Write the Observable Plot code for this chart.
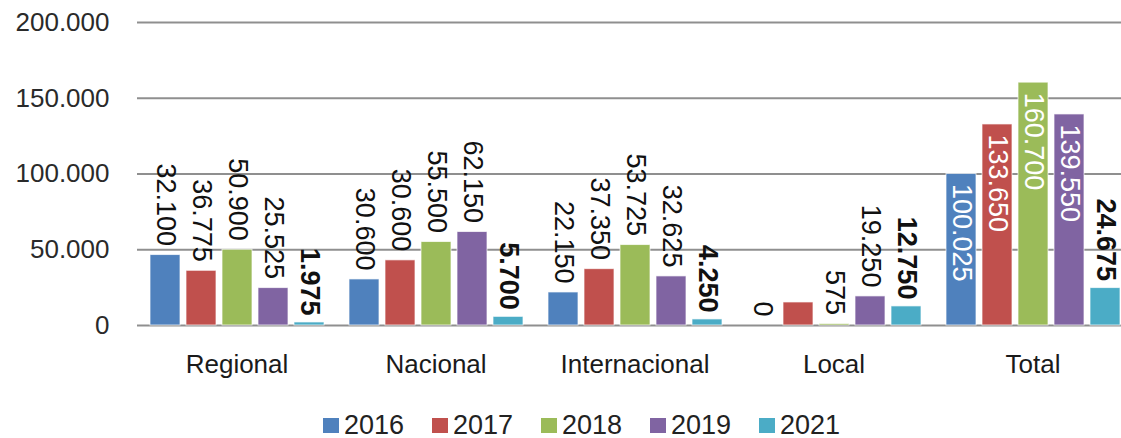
<!DOCTYPE html>
<html>
<head>
<meta charset="utf-8">
<script src="https://cdn.jsdelivr.net/npm/d3@7"></script>
<script src="https://cdn.jsdelivr.net/npm/@observablehq/plot@0.6"></script>
<style>
  html, body { margin: 0; padding: 0; background: #fff; }
  body { width: 1121px; height: 438px; overflow: hidden; font-family: "Liberation Sans", Arial, sans-serif; }
  #chart svg { display: block; overflow: hidden; }
  #legend { display: flex; margin-left: 323px; margin-top: 22px; height: 22px; align-items: center; }
  .item { display: flex; align-items: center; width: 109px; }
  .sw { width: 16px; height: 15px; margin-right: 5px; }
  .lb { font-size: 27px; color: #222; line-height: 22px; }
</style>
</head>
<body>
<div id="chart"></div>
<div id="legend"></div>
<script>
const categories = ["Regional", "Nacional", "Internacional", "Local", "Total"];
const years = ["2016", "2017", "2018", "2019", "2021"];
const colors = ["#4f81bd", "#c0504d", "#9bbb59", "#8064a2", "#4bacc6"];
const yTicks = [0, 50000, 100000, 150000, 200000];

// bar heights
const v2016 = [46500, 30400, 21800, 0, 100025];
const v2017 = [36100, 43000, 37200, 15200, 132700];
const v2018 = [50000, 55100, 53100, 1000, 160300];
const v2019 = [24700, 61700, 32400, 19200, 139300];
const v2021 = [2000, 5700, 4000, 12600, 24700];

// data labels as printed on the chart
const l2016 = [32100, 30600, 22150, 0, 100025];
const l2017 = [36775, 30600, 37350, null, 133650];
const l2018 = [50900, 55500, 53725, 575, 160700];
const l2019 = [25525, 62150, 32625, 19250, 139550];
const l2021 = [1975, 5700, 4250, 12750, 24675];

const values = [v2016, v2017, v2018, v2019, v2021];
const labels = [l2016, l2017, l2018, l2019, l2021];

const data = [];
years.forEach((yr, i) => categories.forEach((c, j) => {
  data.push({cat: c, year: yr, value: values[i][j], label: labels[i][j]});
}));

const loc = d3.formatLocale({decimal: ",", thousands: ".", grouping: [3], currency: ["", ""]});
const fmt = loc.format(",");

const labeled = data.filter(d => d.label != null);
const inside = labeled.filter(d => d.cat === "Total" && d.year !== "2021");
const outsideNormal = labeled.filter(d => !inside.includes(d) && d.year !== "2021");
const outsideBold = labeled.filter(d => !inside.includes(d) && d.year === "2021");

const font = "Liberation Sans, Arial, sans-serif";

const chart = Plot.plot({
  width: 1121,
  height: 392,
  marginLeft: 136,
  marginRight: -12,
  marginTop: 22,
  marginBottom: 67,
  style: {fontFamily: font, background: "white"},
  fx: {domain: categories, padding: 0, label: null},
  x: {domain: years, paddingInner: 0.17, paddingOuter: 0.3, axis: null},
  y: {domain: [0, 200000], label: null},
  color: {domain: years, range: colors},
  marks: [
    Plot.ruleY(yTicks, {stroke: "#8f8f8f", strokeWidth: 2}),
    Plot.barY(data, {fx: "cat", x: "year", y: "value", fill: "year", stroke: "white", strokeOpacity: 0.7, strokeWidth: 1}),
    Plot.text(outsideNormal, {fx: "cat", x: "year", y: "value", text: d => fmt(d.label), rotate: 90, textAnchor: "end", dy: -9, fontSize: 27, fill: "#111"}),
    Plot.text(outsideBold, {fx: "cat", x: "year", y: "value", text: d => fmt(d.label), rotate: 90, textAnchor: "end", dy: -7, fontSize: 27, fontWeight: "bold", fill: "#111"}),
    Plot.text(inside, {fx: "cat", x: "year", y: "value", text: d => fmt(d.label), rotate: 90, textAnchor: "start", dy: 10, fontSize: 27, fill: "white"}),
    Plot.axisY(yTicks, {tickSize: 0, tickPadding: 28, fontSize: 26, tickFormat: fmt, fill: "#2a2a2a", label: null}),
    Plot.axisFx({anchor: "bottom", tickSize: 0, tickPadding: 29, fontSize: 26, fill: "#1a1a1a", label: null})
  ]
});
document.getElementById("chart").appendChild(chart);

const legend = document.getElementById("legend");
years.forEach((yr, i) => {
  const item = document.createElement("div");
  item.className = "item";
  const sw = document.createElement("div");
  sw.className = "sw";
  sw.style.background = colors[i];
  const lb = document.createElement("span");
  lb.className = "lb";
  lb.textContent = yr;
  item.appendChild(sw);
  item.appendChild(lb);
  legend.appendChild(item);
});
</script>
</body>
</html>
